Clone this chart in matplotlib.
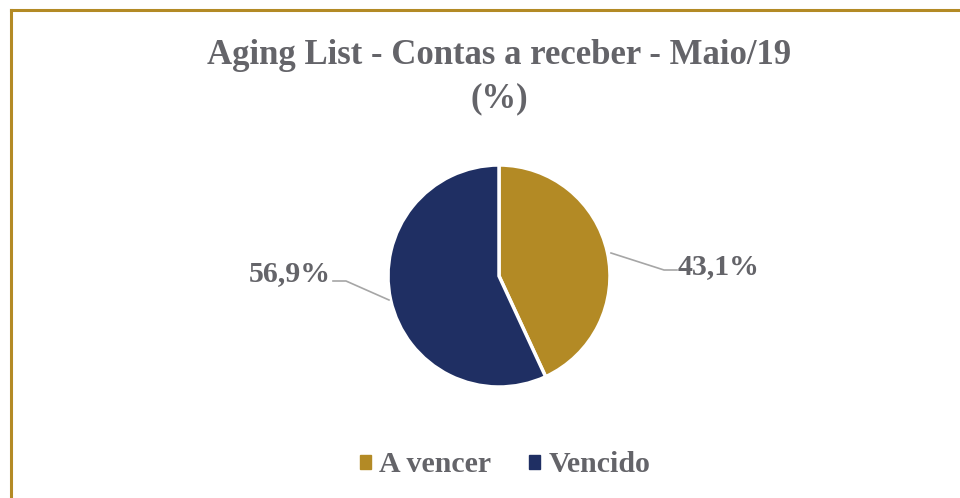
import matplotlib
matplotlib.use("Agg")
import matplotlib.pyplot as plt
from matplotlib.patches import Patch
from matplotlib.lines import Line2D

categories = ["A vencer", "Vencido"]
values = [43.1, 56.9]
labels = ["43,1%", "56,9%"]
colors = ["#B38A25", "#1F2F63"]
title = "Aging List - Contas a receber - Maio/19\n(%)"

plt.rcParams['font.family'] = ['Liberation Serif', 'DejaVu Serif']
txt_color = "#646469"

fig = plt.figure(figsize=(9.6, 4.98), dpi=100)
fig.patch.set_facecolor("white")

# border (top & left visible)
fig.add_artist(Line2D([10.5/960, 10.5/960], [0, 1 - 10.5/498], color="#B38A25", lw=2.2, transform=fig.transFigure))
fig.add_artist(Line2D([10.5/960, 1], [1 - 10.5/498, 1 - 10.5/498], color="#B38A25", lw=2.2, transform=fig.transFigure))

fig.text(499/960, 1 - 77/498, title, ha="center", va="center", fontsize=25, fontweight="bold",
         color=txt_color, linespacing=1.42)

cx, cy, r = 499, 276, 111
ax = fig.add_axes([(cx - r)/960, 1 - (cy + r)/498, 2*r/960, 2*r/498])
wedges, _ = ax.pie(values, colors=colors, startangle=90, counterclock=False,
                   wedgeprops=dict(edgecolor="white", linewidth=2.5))
ax.set_aspect("auto")
ax.set_xlim(-1, 1)
ax.set_ylim(-1, 1)

def px(x, y):
    return ((x - cx) / r, (cy - y) / r)

# leader lines & labels
la = [px(611, 253), px(664, 270), px(677, 270)]
lb = [px(389, 300), px(346, 281), px(333, 281)]
for pts in (la, lb):
    ax.plot([p[0] for p in pts], [p[1] for p in pts], color="#A6A6A6", lw=1.2, clip_on=False)
ax.text(*px(678, 267), labels[0], ha="left", va="center", fontsize=21.5, fontweight="bold",
        color=txt_color, clip_on=False)
ax.text(*px(331, 274), labels[1], ha="right", va="center", fontsize=21.5, fontweight="bold",
        color=txt_color, clip_on=False)

handles = [Patch(facecolor=c, edgecolor=c) for c in colors]
fig.legend(handles, categories, loc="center", bbox_to_anchor=(505/960, 1 - 465/498),
           ncol=2, frameon=False, handlelength=0.37, handleheight=0.37, handletextpad=0.27,
           columnspacing=1.27, prop=dict(size=21.5, weight="bold"), labelcolor=txt_color)

fig.savefig("out.png", dpi=100)
